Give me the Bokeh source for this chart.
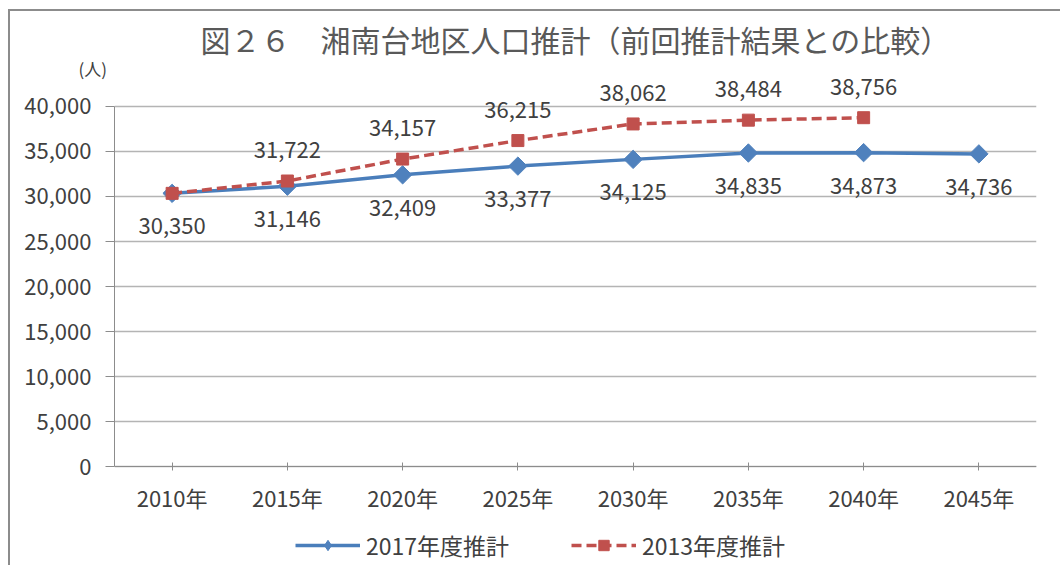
import numpy as np
from bokeh.plotting import figure
from bokeh.models import (ColumnDataSource, FactorRange, Range1d, SingleIntervalTicker,
                          NumeralTickFormatter, LabelSet, Legend, LegendItem, Title)
from bokeh.core.properties import value
from bokeh.embed import file_html
from bokeh.resources import INLINE

# ---- data ----
years = ["2010年", "2015年", "2020年", "2025年", "2030年", "2035年", "2040年", "2045年"]
est_2017 = [30350, 31146, 32409, 33377, 34125, 34835, 34873, 34736]
est_2013 = [30350, 31722, 34157, 36215, 38062, 38484, 38756]
series_names = ["2017年度推計", "2013年度推計"]
title_text = "図２６　湘南台地区人口推計（前回推計結果との比較）"
unit_text = "(人)"
y_ticks_interval = 5000
y_max = 40000
# visible y-window is wider than the axis (0..40000) so labels and legend stay visible
y_view_top = 43111
y_view_bottom = -11222

FONT = "Noto Sans CJK JP"
TXT = "#404040"
BLUE = "#4A7EBB"
BLUE_M = "#4F81BD"
RED = "#C0504D"

src17 = ColumnDataSource(dict(x=years, y=est_2017, t=[f"{v:,}" for v in est_2017]))
src13 = ColumnDataSource(dict(x=years[:len(est_2013)], y=est_2013,
                              t=[f"{v:,}" for v in est_2013]))
# 2010 label of 2013 series coincides with 2017's; show only from 2015 on
lab13 = ColumnDataSource(dict(x=years[1:len(est_2013)], y=est_2013[1:],
                              t=[f"{v:,}" for v in est_2013[1:]]))

p = figure(x_range=FactorRange(*years), y_range=Range1d(y_view_bottom, y_view_top),
           width=1052, height=556, output_backend="svg", toolbar_location=None,
           min_border_left=104, min_border_right=26, min_border_top=67, min_border_bottom=0,
           title=None)
p.styles = {"border-left": "2px solid #8c8c8c", "border-top": "2px solid #8c8c8c",
            "margin-left": "8px", "margin-top": "9px"}
p.outline_line_color = None
p.background_fill_color = "white"
p.border_fill_color = "white"

# axes
p.yaxis.ticker = SingleIntervalTicker(interval=y_ticks_interval, num_minor_ticks=0)
p.yaxis.bounds = (0, y_max)
p.yaxis.formatter = NumeralTickFormatter(format="0,0")
p.yaxis.major_tick_in = 0
p.yaxis.major_tick_out = 9
p.yaxis.minor_tick_line_color = None
p.yaxis.axis_line_color = "#8c8c8c"
p.yaxis.major_tick_line_color = "#8c8c8c"
p.yaxis.major_label_standoff = 14
p.yaxis.major_label_text_font = FONT
p.yaxis.major_label_text_font_size = "22px"
p.yaxis.major_label_text_color = TXT

p.xaxis.fixed_location = 0
p.xaxis.major_tick_in = 4
p.xaxis.major_tick_out = 4
p.xaxis.axis_line_color = "#8c8c8c"
p.xaxis.major_tick_line_color = "#8c8c8c"
p.xaxis.major_label_standoff = 10
p.xaxis.major_label_text_font = FONT
p.xaxis.major_label_text_font_size = "22px"
p.xaxis.major_label_text_color = TXT

p.xgrid.grid_line_color = None
p.ygrid.grid_line_color = "#b4b4b4"
p.ygrid.grid_line_width = 1.5
p.ygrid.bounds = (0, y_max)

# series 2017
l17 = p.line("x", "y", source=src17, line_color=BLUE, line_width=3.5)
# small diamond underneath (used as the legend glyph; hidden by the larger markers)
d17 = p.scatter("x", "y", source=src17, marker="diamond", size=13,
                fill_color=BLUE_M, line_color=BLUE_M)
s17 = p.scatter("x", "y", source=src17, marker="square", angle=np.pi / 4, size=13,
                fill_color=BLUE_M, line_color=BLUE_M)
# series 2013
l13 = p.line("x", "y", source=src13, line_color=RED, line_width=3.5, line_dash="10 5")
s13 = p.scatter("x", "y", source=src13, marker="square", size=12,
                fill_color=RED, line_color=RED)

# data labels
p.add_layout(LabelSet(x="x", y="y", text="t", source=src17, text_align="center",
                      text_baseline="middle", y_offset=-33, text_font=value(FONT),
                      text_font_size=value("22px"), text_color=TXT))
p.add_layout(LabelSet(x="x", y="y", text="t", source=lab13, text_align="center",
                      text_baseline="middle", y_offset=31, text_font=value(FONT),
                      text_font_size=value("22px"), text_color=TXT))

# unit label (nearest the frame) and the main title
p.add_layout(Title(text=unit_text, align="left", offset=-36, standoff=-4,
                   text_font=FONT, text_font_size="17px", text_color=TXT,
                   text_font_style="normal"), "above")
p.add_layout(Title(text=title_text, align="center", offset=0, standoff=-10,
                   text_font=FONT, text_font_size="30px", text_color="#595959",
                   text_font_style="normal"), "above")

legend = Legend(items=[LegendItem(label=series_names[0], renderers=[l17, d17]),
                       LegendItem(label=series_names[1], renderers=[l13, s13])],
                orientation="horizontal", location=(181, 5))
legend.glyph_width = 65
legend.glyph_height = 26
legend.label_standoff = 6
legend.spacing = 62
legend.padding = 0
legend.margin = 0
legend.border_line_color = None
legend.background_fill_alpha = 0
legend.label_text_font = FONT
legend.label_text_font_size = "23px"
legend.label_text_color = TXT
p.add_layout(legend, "center")

open("out.html", "w").write(file_html(p, INLINE))
